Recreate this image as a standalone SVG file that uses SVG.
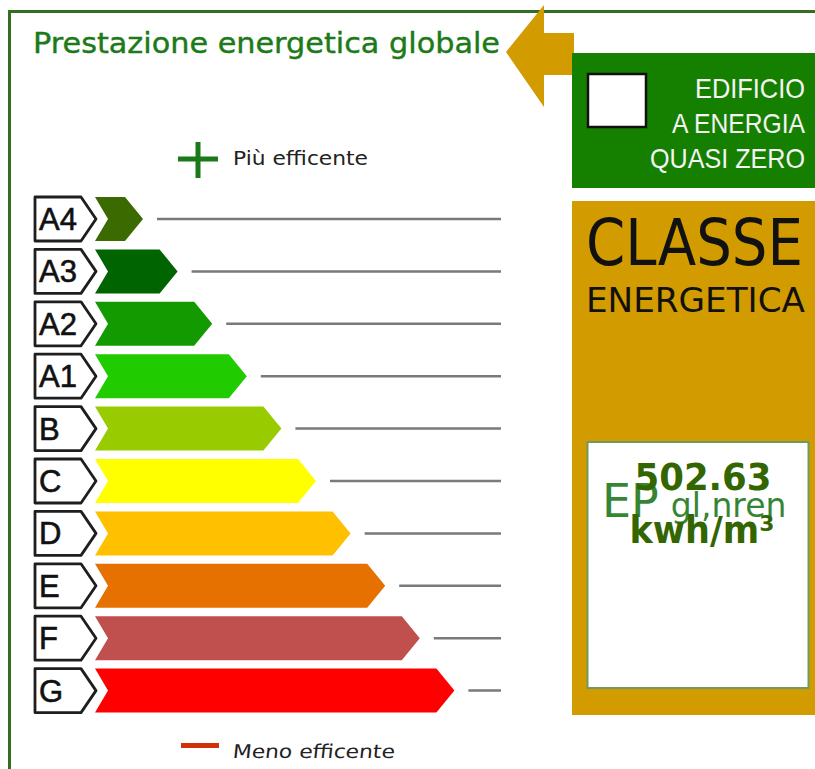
<svg xmlns="http://www.w3.org/2000/svg" width="815" height="769" viewBox="0 0 815 769">
<style>
.lbl{fill:#fff;stroke:#1e1e1e;stroke-width:2.8;stroke-linejoin:round}
.lt{font-family:"Liberation Sans",Arial,sans-serif;font-size:31px;fill:#111;stroke:#111;stroke-width:0.6}
.ln{stroke:#7a7a7a;stroke-width:2.5}
.w{font-family:"Liberation Sans",Arial,sans-serif;font-size:28px;fill:#f4f4f4}
</style>
<rect width="815" height="769" fill="#fff"/>
<g id="frame" fill="none" stroke="#336e22" stroke-width="3">
<path d="M9.5,769 V11.5 H815"/>
</g>
<g id="title">
<text x="33" y="53" font-family="DejaVu Sans,Verdana,sans-serif" font-size="28" fill="#1c7a18" stroke="#1c7a18" stroke-width="0.4" textLength="467" lengthAdjust="spacingAndGlyphs">Prestazione energetica globale</text>
</g>
<g id="arrow">
<path d="M506,52 L544,5 V33 H574 V75 H544 V107 Z" fill="#d29b00"/>
</g>
<g id="nzeb">
<rect x="572" y="53" width="243" height="135" fill="#158000"/>
<rect x="588" y="74" width="58" height="53" fill="#fff" stroke="#111" stroke-width="2.5"/>
<text class="w" x="805" y="98" text-anchor="end" textLength="110" lengthAdjust="spacingAndGlyphs">EDIFICIO</text>
<text class="w" x="805" y="133" text-anchor="end" textLength="133" lengthAdjust="spacingAndGlyphs">A ENERGIA</text>
<text class="w" x="805" y="168" text-anchor="end" textLength="155" lengthAdjust="spacingAndGlyphs">QUASI ZERO</text>
</g>
<g id="piu">
<path d="M178,159 H218 M198,142 V178" stroke="#1a7a1a" stroke-width="5"/>
<text x="233" y="165" font-family="DejaVu Sans,Verdana,sans-serif" font-size="19" fill="#222" textLength="135" lengthAdjust="spacingAndGlyphs">Più efficente</text>
</g>
<g id="A4" transform="translate(0,219)">
<path class="lbl" d="M35,-22 H81 L96,0 L81,22 H35 Z"/>
<text class="lt" x="39" y="11">A4</text>
<path d="M95,-22 H125 L143,0 L125,22 H95 L108,0 Z" fill="#3a6a00"/>
</g>
<g id="A3" transform="translate(0,271.4)">
<path class="lbl" d="M35,-22 H81 L96,0 L81,22 H35 Z"/>
<text class="lt" x="39" y="11">A3</text>
<path d="M95,-22 H159.6 L177.6,0 L159.6,22 H95 L108,0 Z" fill="#006400"/>
</g>
<g id="A2" transform="translate(0,323.8)">
<path class="lbl" d="M35,-22 H81 L96,0 L81,22 H35 Z"/>
<text class="lt" x="39" y="11">A2</text>
<path d="M95,-22 H194.2 L212.2,0 L194.2,22 H95 L108,0 Z" fill="#139a00"/>
</g>
<g id="A1" transform="translate(0,376.2)">
<path class="lbl" d="M35,-22 H81 L96,0 L81,22 H35 Z"/>
<text class="lt" x="39" y="11">A1</text>
<path d="M95,-22 H228.8 L246.8,0 L228.8,22 H95 L108,0 Z" fill="#20cc00"/>
</g>
<g id="B" transform="translate(0,428.6)">
<path class="lbl" d="M35,-22 H81 L96,0 L81,22 H35 Z"/>
<text class="lt" x="39" y="11">B</text>
<path d="M95,-22 H263.4 L281.4,0 L263.4,22 H95 L108,0 Z" fill="#99cc00"/>
</g>
<g id="C" transform="translate(0,481)">
<path class="lbl" d="M35,-22 H81 L96,0 L81,22 H35 Z"/>
<text class="lt" x="39" y="11">C</text>
<path d="M95,-22 H298 L316,0 L298,22 H95 L108,0 Z" fill="#ffff00"/>
</g>
<g id="D" transform="translate(0,533.4)">
<path class="lbl" d="M35,-22 H81 L96,0 L81,22 H35 Z"/>
<text class="lt" x="39" y="11">D</text>
<path d="M95,-22 H332.6 L350.6,0 L332.6,22 H95 L108,0 Z" fill="#ffc000"/>
</g>
<g id="E" transform="translate(0,585.8)">
<path class="lbl" d="M35,-22 H81 L96,0 L81,22 H35 Z"/>
<text class="lt" x="39" y="11">E</text>
<path d="M95,-22 H367.2 L385.2,0 L367.2,22 H95 L108,0 Z" fill="#e67000"/>
</g>
<g id="F" transform="translate(0,638.2)">
<path class="lbl" d="M35,-22 H81 L96,0 L81,22 H35 Z"/>
<text class="lt" x="39" y="11">F</text>
<path d="M95,-22 H401.8 L419.8,0 L401.8,22 H95 L108,0 Z" fill="#c0504d"/>
</g>
<g id="G" transform="translate(0,690.6)">
<path class="lbl" d="M35,-22 H81 L96,0 L81,22 H35 Z"/>
<text class="lt" x="39" y="11">G</text>
<path d="M95,-22 H436.4 L454.4,0 L436.4,22 H95 L108,0 Z" fill="#ff0000"/>
</g>
<g id="connectors">
<path class="ln" d="M157,219 H501 M191.6,271.4 H501 M226.2,323.8 H501 M260.8,376.2 H501 M295.4,428.6 H501 M330,481 H501 M364.6,533.4 H501 M399.2,585.8 H501 M433.8,638.2 H501 M468.4,690.6 H501"/>
</g>
<g id="meno">
<rect x="181" y="743" width="38" height="5" fill="#d0300a"/>
<text x="232" y="758" font-family="DejaVu Sans,Verdana,sans-serif" font-size="19" fill="#222" transform="skewX(-6) translate(80,0)" textLength="162" lengthAdjust="spacingAndGlyphs">Meno efficente</text>
</g>
<g id="classe">
<rect x="572" y="201" width="243" height="514" fill="#d29b00"/>
<text x="586" y="265" font-family="DejaVu Sans,Verdana,sans-serif" font-size="64" fill="#111" textLength="217" lengthAdjust="spacingAndGlyphs">CLASSE</text>
<text x="586" y="312" font-family="DejaVu Sans,Verdana,sans-serif" font-size="34" fill="#111" textLength="219" lengthAdjust="spacingAndGlyphs">ENERGETICA</text>
<rect x="587.5" y="442" width="221" height="246" fill="#fff" stroke="#6f9a5f" stroke-width="2"/>
<text x="602" y="517" font-family="DejaVu Sans,Verdana,sans-serif" fill="#1f7a1f" opacity="0.9"><tspan font-size="46">EP</tspan><tspan font-size="33" dx="12">gl,nren</tspan></text>
<text x="703" y="490" text-anchor="middle" font-family="DejaVu Sans,Verdana,sans-serif" font-weight="bold" font-size="37" fill="#336600" textLength="137" lengthAdjust="spacingAndGlyphs">502.63</text>
<text x="702" y="543" text-anchor="middle" font-family="DejaVu Sans,Verdana,sans-serif" font-weight="bold" font-size="37" fill="#336600" textLength="145" lengthAdjust="spacingAndGlyphs">kwh/m³</text>
</g>
</svg>
